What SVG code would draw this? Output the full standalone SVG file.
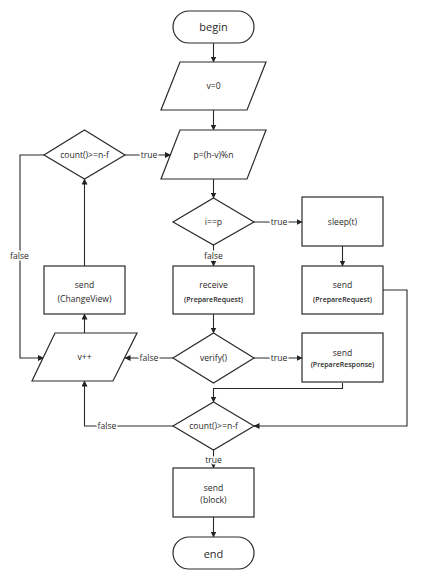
<svg xmlns="http://www.w3.org/2000/svg" width="433" height="575" viewBox="0 0 433 575">
<defs>
<marker id="ah" markerWidth="6" markerHeight="6" refX="5.5" refY="3" orient="auto" markerUnits="userSpaceOnUse">
<path d="M0,0 L6,3 L0,6 Z" fill="#222"/>
</marker>
<style>
.s{fill:#fff;stroke:#2a2a2a;stroke-width:1.2}
.c{fill:none;stroke:#2a2a2a;stroke-width:1.1;marker-end:url(#ah)}
text{font-family:"Open Sans","Noto Sans",sans-serif;fill:#2a2a2a;text-anchor:middle;dominant-baseline:central}
.t{font-size:8.6px}
.b{font-size:11px}
.p{font-size:7px;font-weight:600}
.l{font-size:8.6px;paint-order:stroke;stroke:#fff;stroke-width:3px}
</style>
</defs>
<rect width="433" height="575" fill="#fff"/>
<g id="connectors">
<path class="c" d="M213.5,43 V62"/>
<path class="c" d="M213.5,110 V130"/>
<path class="c" d="M213.5,179 V198"/>
<path class="c" d="M254,222 H302"/>
<path class="c" d="M342.5,246 V266"/>
<path class="c" d="M213.5,245 V266"/>
<path class="c" d="M213.5,314 V333"/>
<path class="c" d="M254,358 H302"/>
<path class="c" d="M173,358 H125"/>
<path class="c" d="M84.5,333 V314"/>
<path class="c" d="M84.5,266 V179"/>
<path class="c" d="M125,155 H170.5"/>
<path class="c" d="M44,155 H20 V358 H43.5"/>
<path class="c" d="M383,290 H407 V426 H254"/>
<path class="c" d="M342.5,383 V388.5 H213.5 V402"/>
<path class="c" d="M173,426 H84.5 V381"/>
<path class="c" d="M213.5,450 V468"/>
<path class="c" d="M213.5,517 V537"/>
<text class="l" x="149" y="155">true</text>
<text class="l" x="279" y="222">true</text>
<text class="l" x="213.5" y="256">false</text>
<text class="l" x="279" y="358">true</text>
<text class="l" x="149" y="358">false</text>
<text class="l" x="19.5" y="256">false</text>
<text class="l" x="107" y="426">false</text>
<text class="l" x="213.5" y="460">true</text>
</g>
<g id="begin">
<rect class="s" x="173" y="11" width="81" height="32" rx="16"/>
<text class="b" x="213.5" y="26.5">begin</text>
</g>
<g id="v0">
<polygon class="s" points="180,62 266,62 247,110 161,110"/>
<text class="t" x="213.5" y="86">v=0</text>
</g>
<g id="p">
<polygon class="s" points="180,130 266,130 247,179 161,179"/>
<text class="t" x="213.5" y="154.5">p=(h-v)%n</text>
</g>
<g id="count1">
<polygon class="s" points="84.5,130 125,155 84.5,179 44,155"/>
<text class="t" x="84.5" y="154.5">count()&gt;=n-f</text>
</g>
<g id="ieqp">
<polygon class="s" points="213.5,198 254,222 213.5,245 173,222"/>
<text class="t" x="213.5" y="221.5">i==p</text>
</g>
<g id="sleep">
<rect class="s" x="302" y="197" width="81" height="49"/>
<text class="t" x="342.5" y="221.5">sleep(t)</text>
</g>
<g id="sendPrepareRequest">
<rect class="s" x="302" y="266" width="81" height="48"/>
<text class="t" x="342.5" y="285">send</text>
<text class="p" x="342.5" y="299">(PrepareRequest)</text>
</g>
<g id="receive">
<rect class="s" x="173" y="266" width="81" height="48"/>
<text class="t" x="213.5" y="285">receive</text>
<text class="p" x="213.5" y="299">(PrepareRequest)</text>
</g>
<g id="sendChangeView">
<rect class="s" x="44" y="266" width="81" height="48"/>
<text class="t" x="84.5" y="285">send</text>
<text class="t" x="84.5" y="298.5">(ChangeView)</text>
</g>
<g id="verify">
<polygon class="s" points="213.5,333 254,358 213.5,383 173,358"/>
<text class="t" x="213.5" y="357.5">verify()</text>
</g>
<g id="vpp">
<polygon class="s" points="55,333 137,333 113,381 32,381"/>
<text class="t" x="84.5" y="357">v++</text>
</g>
<g id="sendPrepareResponse">
<rect class="s" x="302" y="333" width="81" height="49"/>
<text class="t" x="342.5" y="353">send</text>
<text class="p" x="342.5" y="364.5">(PrepareResponse)</text>
</g>
<g id="count2">
<polygon class="s" points="213.5,402 254,426 213.5,450 173,426"/>
<text class="t" x="213.5" y="425.5">count()&gt;=n-f</text>
</g>
<g id="sendBlock">
<rect class="s" x="173" y="468" width="81" height="49"/>
<text class="t" x="213.5" y="488">send</text>
<text class="t" x="213.5" y="499.5">(block)</text>
</g>
<g id="end">
<rect class="s" x="173" y="537" width="81" height="32" rx="16"/>
<text class="b" x="213.5" y="553">end</text>
</g>
</svg>
